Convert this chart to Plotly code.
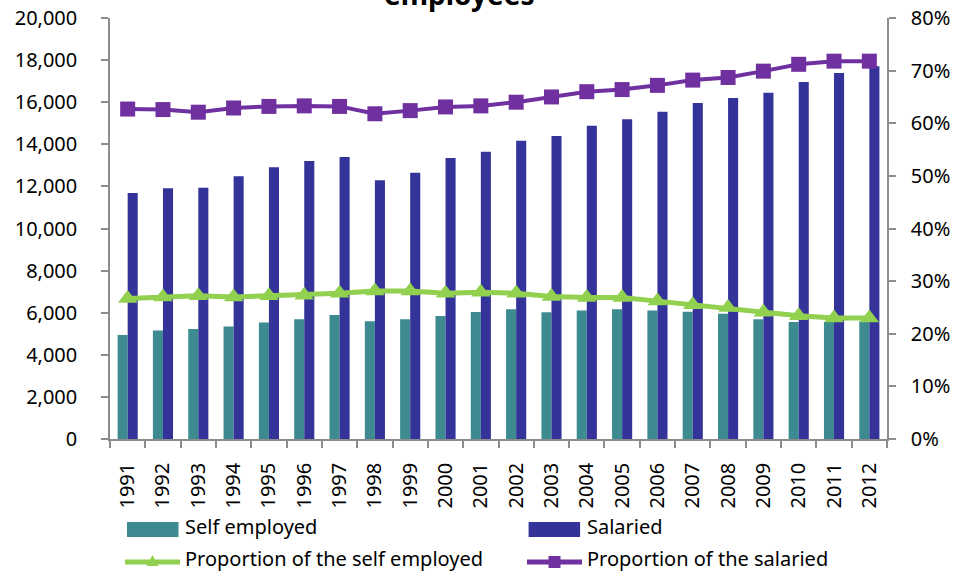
import plotly.graph_objects as go

# Categories
years = ["1991", "1992", "1993", "1994", "1995", "1996", "1997", "1998", "1999", "2000", "2001",
         "2002", "2003", "2004", "2005", "2006", "2007", "2008", "2009", "2010", "2011", "2012"]

# Number of workers (thousands)
self_employed = [4940, 5150, 5230, 5340, 5540, 5690, 5890, 5590, 5690, 5840, 6030,
                 6160, 6020, 6100, 6160, 6110, 6050, 5950, 5690, 5560, 5560, 5590]
salaried = [11690, 11910, 11940, 12480, 12910, 13210, 13400, 12290, 12650, 13350, 13650,
            14170, 14390, 14880, 15190, 15550, 15960, 16200, 16450, 16960, 17390, 17710]

# Shares of total employment (%)
prop_self = [26.7, 27.0, 27.2, 27.0, 27.2, 27.3, 27.7, 28.1, 28.1, 27.7, 27.9,
             27.7, 27.1, 26.9, 26.9, 26.2, 25.5, 25.0, 24.1, 23.4, 23.0, 23.0]
prop_salaried = [62.7, 62.6, 62.1, 62.9, 63.2, 63.3, 63.2, 61.8, 62.4, 63.1, 63.3,
                 64.0, 65.0, 66.0, 66.4, 67.2, 68.2, 68.7, 69.9, 71.2, 71.8, 71.8]

# Axis ticks
left_ticks = [0, 2000, 4000, 6000, 8000, 10000, 12000, 14000, 16000, 18000, 20000]
left_labels = ["0", "2,000", "4,000", "6,000", "8,000", "10,000", "12,000",
               "14,000", "16,000", "18,000", "20,000"]
right_ticks = [0, 10, 20, 30, 40, 50, 60, 70, 80]
right_labels = ["0%", "10%", "20%", "30%", "40%", "50%", "60%", "70%", "80%"]

TEAL = "#3D8B90"
NAVY = "#333399"
GREEN = "#92D050"
PURPLE = "#7030A0"
AXIS = "#8C8C8C"
FONT = "Noto Sans"

W, H = 957, 571
L, R, T, B = 110, 70, 18, 132
PW, PH = W - L - R, H - T - B


def px(x):
    return (x - L) / PW


def py(y):
    return (H - B - y) / PH


fig = go.Figure()
fig.add_trace(go.Bar(x=years, y=self_employed, name="Self employed",
                     marker=dict(color=TEAL, line=dict(width=0)), showlegend=False))
fig.add_trace(go.Bar(x=years, y=salaried, name="Salaried",
                     marker=dict(color=NAVY, line=dict(width=0)), showlegend=False))
fig.add_trace(go.Scatter(x=years, y=prop_self, yaxis="y2", mode="lines+markers",
                         name="Proportion of the self employed",
                         line=dict(color=GREEN, width=5),
                         marker=dict(symbol="triangle-up", size=17, color=GREEN),
                         showlegend=False))
fig.add_trace(go.Scatter(x=years, y=prop_salaried, yaxis="y2", mode="lines+markers",
                         name="Proportion of the salaried",
                         line=dict(color=PURPLE, width=4),
                         marker=dict(symbol="square", size=15, color=PURPLE),
                         showlegend=False))

axis_common = dict(showline=True, linecolor=AXIS, linewidth=1.5, ticks="outside",
                   ticklen=7, tickcolor=AXIS, tickwidth=1.5, showgrid=False,
                   zeroline=False, automargin=False,
                   tickfont=dict(family=FONT, size=20, color="#000"))

fig.update_layout(
    width=W, height=H,
    margin=dict(l=L, r=R, t=T, b=B),
    paper_bgcolor="white", plot_bgcolor="white",
    barmode="group", bargap=0.43, bargroupgap=0,
    xaxis=dict(type="category", range=[-0.5, len(years) - 0.5], tickson="boundaries",
               tickangle=-90, ticklabelstandoff=14, **axis_common),
    yaxis=dict(range=[0, 20000], tickmode="array", tickvals=left_ticks,
               ticktext=left_labels, ticklabelstandoff=20, **axis_common),
    yaxis2=dict(range=[0, 80], tickmode="array", tickvals=right_ticks,
                ticktext=right_labels, overlaying="y", side="right",
                ticklabelstandoff=11, **axis_common),
    showlegend=False,
)

# Title (top line runs off the top edge)
fig.add_annotation(text="<b>employees</b>", xref="paper", yref="paper",
                   x=px(459), y=py(15), xanchor="center", yanchor="bottom",
                   showarrow=False, font=dict(family=FONT, size=28, color="#000"))

# Legend drawn below the axis
shapes = []
ann = []
legend_font = dict(family=FONT, size=20, color="#000")
row1, row2 = 529.5, 561
# bar swatches
for x0, col, label in [(127, TEAL, "Self employed"), (528.6, NAVY, "Salaried")]:
    shapes.append(dict(type="rect", xref="paper", yref="paper",
                       x0=px(x0), x1=px(x0 + 51.5), y0=py(row1 + 7.5), y1=py(row1 - 7.5),
                       fillcolor=col, line=dict(width=0)))
    ann.append(dict(text=label, xref="paper", yref="paper", x=px(x0 + 56), y=py(row1 - 3),
                    xanchor="left", yanchor="middle", showarrow=False, font=legend_font))
# line swatches
for x0, col, label, sym in [(125, GREEN, "Proportion of the self employed", "tri"),
                            (527, PURPLE, "Proportion of the salaried", "sq")]:
    shapes.append(dict(type="line", xref="paper", yref="paper",
                       x0=px(x0), x1=px(x0 + 55), y0=py(row2 + 1), y1=py(row2 + 1),
                       line=dict(color=col, width=5)))
    cx = x0 + 27.5
    if sym == "tri":
        path = (f"M {px(cx - 6)} {py(row2 + 5)} L {px(cx + 6)} {py(row2 + 5)} "
                f"L {px(cx)} {py(row2 - 6)} Z")
        shapes.append(dict(type="path", xref="paper", yref="paper", path=path,
                           fillcolor=col, line=dict(width=0)))
    else:
        shapes.append(dict(type="rect", xref="paper", yref="paper",
                           x0=px(cx - 6), x1=px(cx + 6), y0=py(row2 + 7), y1=py(row2 - 5),
                           fillcolor=col, line=dict(width=0)))
    ann.append(dict(text=label, xref="paper", yref="paper", x=px(x0 + 58), y=py(row2 - 3),
                    xanchor="left", yanchor="middle", showarrow=False, font=legend_font))

fig.update_layout(shapes=shapes)
for a in ann:
    fig.add_annotation(**a)

fig.write_html("out.html")
